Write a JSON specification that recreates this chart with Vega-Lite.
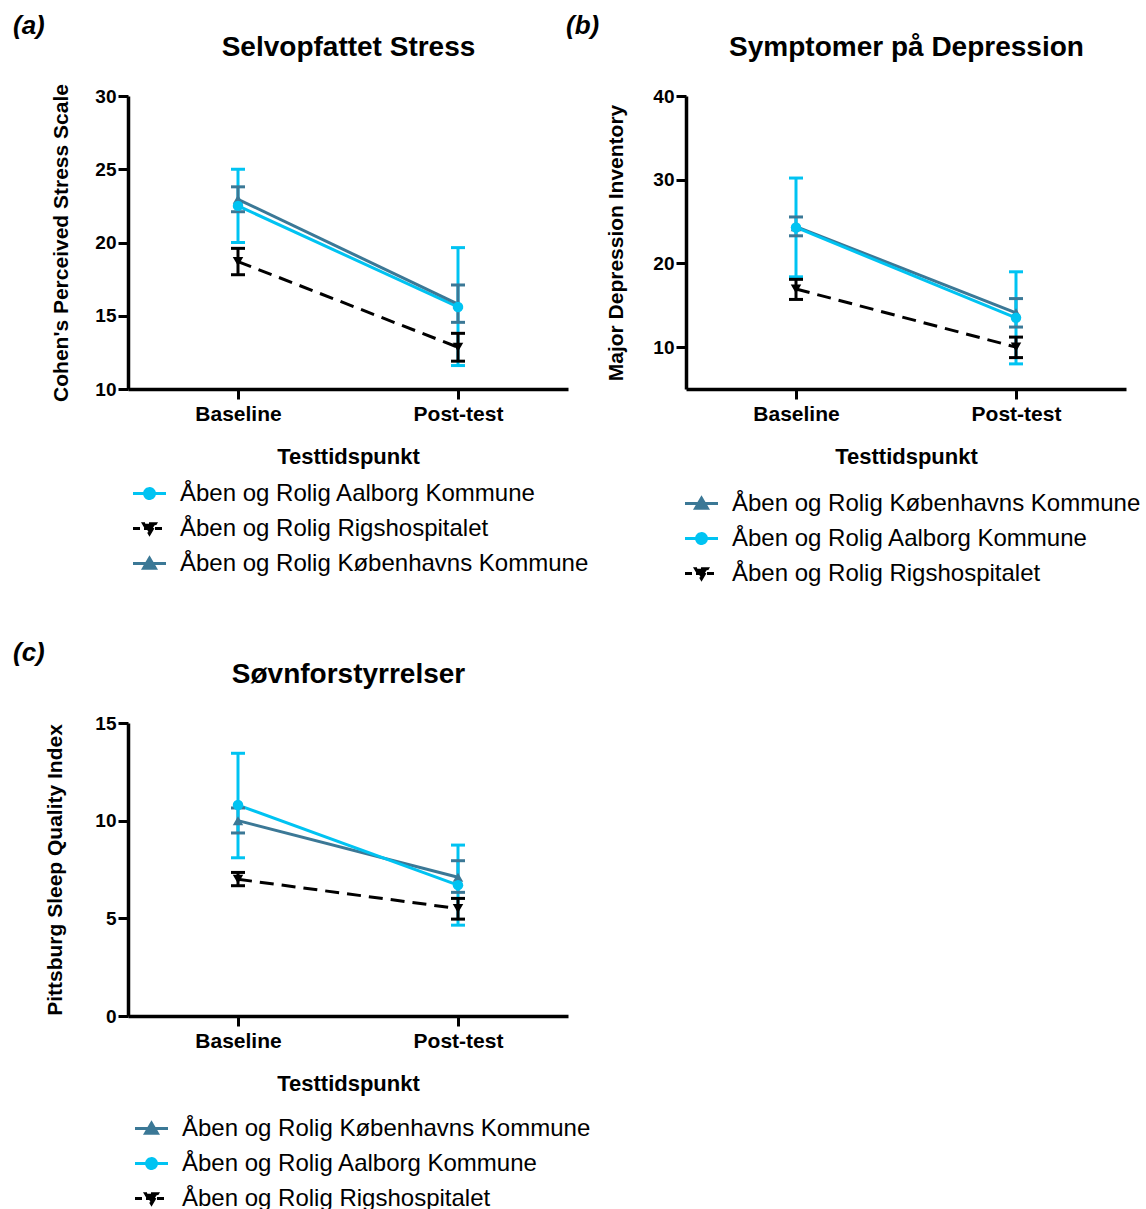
{
  "$schema": "https://vega.github.io/schema/vega-lite/v6.json",
  "background": "white",
  "padding": {"left": 13, "top": 13, "right": 0, "bottom": 0},
  "bounds": "flush",
  "columns": 2,
  "spacing": {"row": 334, "column": 118},
  "datasets": {
    "d": [
      {"panel": "a", "group": "Åben og Rolig Aalborg Kommune", "time": "Baseline", "mean": 22.5, "lo": 20.0, "hi": 25.0},
      {"panel": "a", "group": "Åben og Rolig Aalborg Kommune", "time": "Post-test", "mean": 15.6, "lo": 11.6, "hi": 19.65},
      {"panel": "a", "group": "Åben og Rolig Rigshospitalet", "time": "Baseline", "mean": 18.7, "lo": 17.8, "hi": 19.6},
      {"panel": "a", "group": "Åben og Rolig Rigshospitalet", "time": "Post-test", "mean": 12.85, "lo": 11.9, "hi": 13.8},
      {"panel": "a", "group": "Åben og Rolig Københavns Kommune", "time": "Baseline", "mean": 22.95, "lo": 22.1, "hi": 23.8},
      {"panel": "a", "group": "Åben og Rolig Københavns Kommune", "time": "Post-test", "mean": 15.8, "lo": 14.55, "hi": 17.1},
      {"panel": "b", "group": "Åben og Rolig Københavns Kommune", "time": "Baseline", "mean": 24.4, "lo": 23.3, "hi": 25.55},
      {"panel": "b", "group": "Åben og Rolig Københavns Kommune", "time": "Post-test", "mean": 14.1, "lo": 12.4, "hi": 15.8},
      {"panel": "b", "group": "Åben og Rolig Aalborg Kommune", "time": "Baseline", "mean": 24.3, "lo": 18.4, "hi": 30.2},
      {"panel": "b", "group": "Åben og Rolig Aalborg Kommune", "time": "Post-test", "mean": 13.5, "lo": 8.0, "hi": 19.0},
      {"panel": "b", "group": "Åben og Rolig Rigshospitalet", "time": "Baseline", "mean": 16.95, "lo": 15.7, "hi": 18.1},
      {"panel": "b", "group": "Åben og Rolig Rigshospitalet", "time": "Post-test", "mean": 10.0, "lo": 8.75, "hi": 11.2},
      {"panel": "c", "group": "Åben og Rolig Københavns Kommune", "time": "Baseline", "mean": 10.0, "lo": 9.37, "hi": 10.65},
      {"panel": "c", "group": "Åben og Rolig Københavns Kommune", "time": "Post-test", "mean": 7.1, "lo": 6.33, "hi": 7.95},
      {"panel": "c", "group": "Åben og Rolig Aalborg Kommune", "time": "Baseline", "mean": 10.8, "lo": 8.1, "hi": 13.45},
      {"panel": "c", "group": "Åben og Rolig Aalborg Kommune", "time": "Post-test", "mean": 6.7, "lo": 4.65, "hi": 8.75},
      {"panel": "c", "group": "Åben og Rolig Rigshospitalet", "time": "Baseline", "mean": 7.0, "lo": 6.67, "hi": 7.35},
      {"panel": "c", "group": "Åben og Rolig Rigshospitalet", "time": "Post-test", "mean": 5.5, "lo": 4.96, "hi": 6.02}
    ]
  },
  "concat": [
    {
      "width": 440, "height": 293,
      "data": {"name": "d"},
      "transform": [{"filter": "datum.panel === 'a'"}],
      "title": {"text": "(a)", "anchor": "start", "frame": "group", "dx": -115, "font": "Liberation Sans", "fontSize": 26, "fontWeight": "bold", "fontStyle": "italic", "color": "black", "baseline": "alphabetic", "offset": -27},
      "encoding": {
        "color": {"field": "group", "type": "nominal",
          "scale": {"domain": ["Åben og Rolig Aalborg Kommune", "Åben og Rolig Rigshospitalet", "Åben og Rolig Københavns Kommune"], "range": ["#00c3f2", "#000000", "#3b7896"]},
          "legend": {"title": null, "orient": "none", "legendX": 8, "legendY": 384,
            "encode": {"symbols": {"update": {
              "shape": {"signal": "datum.value === 'Åben og Rolig Aalborg Kommune' ? 'M-1.4,0H1.4M0.42,0A0.42,0.42,0,1,1,-0.42,0A0.42,0.42,0,1,1,0.42,0Z' : datum.value === 'Åben og Rolig Rigshospitalet' ? 'M-1.4,0H1.4M0,0.45L0.5,-0.4L-0.5,-0.4Z' : 'M-1.4,0H1.4M0,-0.45L0.5,0.4L-0.5,0.4Z'"},
              "fill": {"signal": "datum.value === 'Åben og Rolig Aalborg Kommune' ? '#00c3f2' : datum.value === 'Åben og Rolig Rigshospitalet' ? '#000000' : '#3b7896'"},
              "stroke": {"signal": "datum.value === 'Åben og Rolig Aalborg Kommune' ? '#00c3f2' : datum.value === 'Åben og Rolig Rigshospitalet' ? '#000000' : '#3b7896'"},
              "strokeDash": {"signal": "datum.value === 'Åben og Rolig Rigshospitalet' ? [7,4] : [1,0]"},
              "opacity": {"value": 1}
            }}}}
        }
      },
      "layer": [
        {"transform": [{"filter": "datum.group !== 'Åben og Rolig Rigshospitalet'"}],
         "mark": {"type": "line", "strokeWidth": 3},
         "encoding": {
           "x": {"field": "time", "type": "nominal", "scale": {"type": "point", "padding": 0.5, "domain": ["Baseline", "Post-test"]}, "axis": {"title": "Testtidspunkt"}},
           "y": {"field": "mean", "type": "quantitative", "scale": {"domain": [10, 30], "nice": false, "zero": false}, "axis": {"title": "Cohen's Perceived Stress Scale", "values": [10, 15, 20, 25, 30], "titlePadding": 23}}
         }},
        {"transform": [{"filter": "datum.group === 'Åben og Rolig Rigshospitalet'"}],
         "mark": {"type": "line", "strokeWidth": 3, "strokeDash": [14, 8]},
         "encoding": {
           "x": {"field": "time", "type": "nominal", "scale": {"type": "point", "padding": 0.5, "domain": ["Baseline", "Post-test"]}, "axis": null},
           "y": {"field": "mean", "type": "quantitative", "scale": {"domain": [10, 30], "nice": false, "zero": false}}
         }},
        {"mark": {"type": "rule", "strokeWidth": 3},
         "encoding": {
           "x": {"field": "time", "type": "nominal", "scale": {"type": "point", "padding": 0.5, "domain": ["Baseline", "Post-test"]}, "axis": null},
           "y": {"field": "lo", "type": "quantitative", "scale": {"domain": [10, 30], "nice": false, "zero": false}},
           "y2": {"field": "hi"}
         }},
        {"mark": {"type": "tick", "thickness": 3, "size": 14, "opacity": 1},
         "encoding": {
           "x": {"field": "time", "type": "nominal", "scale": {"type": "point", "padding": 0.5, "domain": ["Baseline", "Post-test"]}, "axis": null},
           "y": {"field": "lo", "type": "quantitative", "scale": {"domain": [10, 30], "nice": false, "zero": false}}
         }},
        {"mark": {"type": "tick", "thickness": 3, "size": 14, "opacity": 1},
         "encoding": {
           "x": {"field": "time", "type": "nominal", "scale": {"type": "point", "padding": 0.5, "domain": ["Baseline", "Post-test"]}, "axis": null},
           "y": {"field": "hi", "type": "quantitative", "scale": {"domain": [10, 30], "nice": false, "zero": false}}
         }},
        {"transform": [{"filter": "datum.group === 'Åben og Rolig Københavns Kommune'"}],
         "mark": {"type": "point", "filled": true, "size": 110, "opacity": 1, "shape": "triangle-up"},
         "encoding": {
           "x": {"field": "time", "type": "nominal", "scale": {"type": "point", "padding": 0.5, "domain": ["Baseline", "Post-test"]}, "axis": null},
           "y": {"field": "mean", "type": "quantitative", "scale": {"domain": [10, 30], "nice": false, "zero": false}}
         }},
        {"transform": [{"filter": "datum.group === 'Åben og Rolig Rigshospitalet'"}],
         "mark": {"type": "point", "filled": true, "size": 110, "opacity": 1, "shape": "triangle-down"},
         "encoding": {
           "x": {"field": "time", "type": "nominal", "scale": {"type": "point", "padding": 0.5, "domain": ["Baseline", "Post-test"]}, "axis": null},
           "y": {"field": "mean", "type": "quantitative", "scale": {"domain": [10, 30], "nice": false, "zero": false}}
         }},
        {"transform": [{"filter": "datum.group === 'Åben og Rolig Aalborg Kommune'"}],
         "mark": {"type": "point", "filled": true, "size": 110, "opacity": 1, "shape": "circle"},
         "encoding": {
           "x": {"field": "time", "type": "nominal", "scale": {"type": "point", "padding": 0.5, "domain": ["Baseline", "Post-test"]}, "axis": {"orient": "top", "title": "Selvopfattet Stress", "labels": false, "ticks": false, "domain": false, "titleFontSize": 28, "titlePadding": 35}},
           "y": {"field": "mean", "type": "quantitative", "scale": {"domain": [10, 30], "nice": false, "zero": false}}
         }}
      ],
      "resolve": {"axis": {"x": "independent"}}
    },
    {
      "width": 440, "height": 293,
      "data": {"name": "d"},
      "transform": [{"filter": "datum.panel === 'b'"}],
      "title": {"text": "(b)", "anchor": "start", "frame": "group", "dx": -120, "font": "Liberation Sans", "fontSize": 26, "fontWeight": "bold", "fontStyle": "italic", "color": "black", "baseline": "alphabetic", "offset": -27},
      "encoding": {
        "color": {"field": "group", "type": "nominal",
          "scale": {"domain": ["Åben og Rolig Københavns Kommune", "Åben og Rolig Aalborg Kommune", "Åben og Rolig Rigshospitalet"], "range": ["#3b7896", "#00c3f2", "#000000"]},
          "legend": {"title": null, "orient": "none", "legendX": 2, "legendY": 394,
            "encode": {"symbols": {"update": {
              "shape": {"signal": "datum.value === 'Åben og Rolig Aalborg Kommune' ? 'M-1.4,0H1.4M0.42,0A0.42,0.42,0,1,1,-0.42,0A0.42,0.42,0,1,1,0.42,0Z' : datum.value === 'Åben og Rolig Rigshospitalet' ? 'M-1.4,0H1.4M0,0.45L0.5,-0.4L-0.5,-0.4Z' : 'M-1.4,0H1.4M0,-0.45L0.5,0.4L-0.5,0.4Z'"},
              "fill": {"signal": "datum.value === 'Åben og Rolig Aalborg Kommune' ? '#00c3f2' : datum.value === 'Åben og Rolig Rigshospitalet' ? '#000000' : '#3b7896'"},
              "stroke": {"signal": "datum.value === 'Åben og Rolig Aalborg Kommune' ? '#00c3f2' : datum.value === 'Åben og Rolig Rigshospitalet' ? '#000000' : '#3b7896'"},
              "strokeDash": {"signal": "datum.value === 'Åben og Rolig Rigshospitalet' ? [7,4] : [1,0]"},
              "opacity": {"value": 1}
            }}}}
        }
      },
      "layer": [
        {"transform": [{"filter": "datum.group !== 'Åben og Rolig Rigshospitalet'"}],
         "mark": {"type": "line", "strokeWidth": 3},
         "encoding": {
           "x": {"field": "time", "type": "nominal", "scale": {"type": "point", "padding": 0.5, "domain": ["Baseline", "Post-test"]}, "axis": {"title": "Testtidspunkt"}},
           "y": {"field": "mean", "type": "quantitative", "scale": {"domain": [5, 40], "nice": false, "zero": false}, "axis": {"title": "Major Depression Inventory", "values": [10, 20, 30, 40], "titlePadding": 26}}
         }},
        {"transform": [{"filter": "datum.group === 'Åben og Rolig Rigshospitalet'"}],
         "mark": {"type": "line", "strokeWidth": 3, "strokeDash": [14, 8]},
         "encoding": {
           "x": {"field": "time", "type": "nominal", "scale": {"type": "point", "padding": 0.5, "domain": ["Baseline", "Post-test"]}, "axis": null},
           "y": {"field": "mean", "type": "quantitative", "scale": {"domain": [5, 40], "nice": false, "zero": false}}
         }},
        {"mark": {"type": "rule", "strokeWidth": 3},
         "encoding": {
           "x": {"field": "time", "type": "nominal", "scale": {"type": "point", "padding": 0.5, "domain": ["Baseline", "Post-test"]}, "axis": null},
           "y": {"field": "lo", "type": "quantitative", "scale": {"domain": [5, 40], "nice": false, "zero": false}},
           "y2": {"field": "hi"}
         }},
        {"mark": {"type": "tick", "thickness": 3, "size": 14, "opacity": 1},
         "encoding": {
           "x": {"field": "time", "type": "nominal", "scale": {"type": "point", "padding": 0.5, "domain": ["Baseline", "Post-test"]}, "axis": null},
           "y": {"field": "lo", "type": "quantitative", "scale": {"domain": [5, 40], "nice": false, "zero": false}}
         }},
        {"mark": {"type": "tick", "thickness": 3, "size": 14, "opacity": 1},
         "encoding": {
           "x": {"field": "time", "type": "nominal", "scale": {"type": "point", "padding": 0.5, "domain": ["Baseline", "Post-test"]}, "axis": null},
           "y": {"field": "hi", "type": "quantitative", "scale": {"domain": [5, 40], "nice": false, "zero": false}}
         }},
        {"transform": [{"filter": "datum.group === 'Åben og Rolig Københavns Kommune'"}],
         "mark": {"type": "point", "filled": true, "size": 110, "opacity": 1, "shape": "triangle-up"},
         "encoding": {
           "x": {"field": "time", "type": "nominal", "scale": {"type": "point", "padding": 0.5, "domain": ["Baseline", "Post-test"]}, "axis": null},
           "y": {"field": "mean", "type": "quantitative", "scale": {"domain": [5, 40], "nice": false, "zero": false}}
         }},
        {"transform": [{"filter": "datum.group === 'Åben og Rolig Rigshospitalet'"}],
         "mark": {"type": "point", "filled": true, "size": 110, "opacity": 1, "shape": "triangle-down"},
         "encoding": {
           "x": {"field": "time", "type": "nominal", "scale": {"type": "point", "padding": 0.5, "domain": ["Baseline", "Post-test"]}, "axis": null},
           "y": {"field": "mean", "type": "quantitative", "scale": {"domain": [5, 40], "nice": false, "zero": false}}
         }},
        {"transform": [{"filter": "datum.group === 'Åben og Rolig Aalborg Kommune'"}],
         "mark": {"type": "point", "filled": true, "size": 110, "opacity": 1, "shape": "circle"},
         "encoding": {
           "x": {"field": "time", "type": "nominal", "scale": {"type": "point", "padding": 0.5, "domain": ["Baseline", "Post-test"]}, "axis": {"orient": "top", "title": "Symptomer på Depression", "labels": false, "ticks": false, "domain": false, "titleFontSize": 28, "titlePadding": 35}},
           "y": {"field": "mean", "type": "quantitative", "scale": {"domain": [5, 40], "nice": false, "zero": false}}
         }}
      ],
      "resolve": {"axis": {"x": "independent"}}
    },
    {
      "width": 440, "height": 293,
      "data": {"name": "d"},
      "transform": [{"filter": "datum.panel === 'c'"}],
      "title": {"text": "(c)", "anchor": "start", "frame": "group", "dx": -115, "font": "Liberation Sans", "fontSize": 26, "fontWeight": "bold", "fontStyle": "italic", "color": "black", "baseline": "alphabetic", "offset": -27},
      "encoding": {
        "color": {"field": "group", "type": "nominal",
          "scale": {"domain": ["Åben og Rolig Københavns Kommune", "Åben og Rolig Aalborg Kommune", "Åben og Rolig Rigshospitalet"], "range": ["#3b7896", "#00c3f2", "#000000"]},
          "legend": {"title": null, "orient": "none", "legendX": 10, "legendY": 392,
            "encode": {"symbols": {"update": {
              "shape": {"signal": "datum.value === 'Åben og Rolig Aalborg Kommune' ? 'M-1.4,0H1.4M0.42,0A0.42,0.42,0,1,1,-0.42,0A0.42,0.42,0,1,1,0.42,0Z' : datum.value === 'Åben og Rolig Rigshospitalet' ? 'M-1.4,0H1.4M0,0.45L0.5,-0.4L-0.5,-0.4Z' : 'M-1.4,0H1.4M0,-0.45L0.5,0.4L-0.5,0.4Z'"},
              "fill": {"signal": "datum.value === 'Åben og Rolig Aalborg Kommune' ? '#00c3f2' : datum.value === 'Åben og Rolig Rigshospitalet' ? '#000000' : '#3b7896'"},
              "stroke": {"signal": "datum.value === 'Åben og Rolig Aalborg Kommune' ? '#00c3f2' : datum.value === 'Åben og Rolig Rigshospitalet' ? '#000000' : '#3b7896'"},
              "strokeDash": {"signal": "datum.value === 'Åben og Rolig Rigshospitalet' ? [7,4] : [1,0]"},
              "opacity": {"value": 1}
            }}}}
        }
      },
      "layer": [
        {"transform": [{"filter": "datum.group !== 'Åben og Rolig Rigshospitalet'"}],
         "mark": {"type": "line", "strokeWidth": 3},
         "encoding": {
           "x": {"field": "time", "type": "nominal", "scale": {"type": "point", "padding": 0.5, "domain": ["Baseline", "Post-test"]}, "axis": {"title": "Testtidspunkt"}},
           "y": {"field": "mean", "type": "quantitative", "scale": {"domain": [0, 15], "nice": false, "zero": false}, "axis": {"title": "Pittsburg Sleep Quality Index", "values": [0, 5, 10, 15], "titlePadding": 29}}
         }},
        {"transform": [{"filter": "datum.group === 'Åben og Rolig Rigshospitalet'"}],
         "mark": {"type": "line", "strokeWidth": 3, "strokeDash": [14, 8]},
         "encoding": {
           "x": {"field": "time", "type": "nominal", "scale": {"type": "point", "padding": 0.5, "domain": ["Baseline", "Post-test"]}, "axis": null},
           "y": {"field": "mean", "type": "quantitative", "scale": {"domain": [0, 15], "nice": false, "zero": false}}
         }},
        {"mark": {"type": "rule", "strokeWidth": 3},
         "encoding": {
           "x": {"field": "time", "type": "nominal", "scale": {"type": "point", "padding": 0.5, "domain": ["Baseline", "Post-test"]}, "axis": null},
           "y": {"field": "lo", "type": "quantitative", "scale": {"domain": [0, 15], "nice": false, "zero": false}},
           "y2": {"field": "hi"}
         }},
        {"mark": {"type": "tick", "thickness": 3, "size": 14, "opacity": 1},
         "encoding": {
           "x": {"field": "time", "type": "nominal", "scale": {"type": "point", "padding": 0.5, "domain": ["Baseline", "Post-test"]}, "axis": null},
           "y": {"field": "lo", "type": "quantitative", "scale": {"domain": [0, 15], "nice": false, "zero": false}}
         }},
        {"mark": {"type": "tick", "thickness": 3, "size": 14, "opacity": 1},
         "encoding": {
           "x": {"field": "time", "type": "nominal", "scale": {"type": "point", "padding": 0.5, "domain": ["Baseline", "Post-test"]}, "axis": null},
           "y": {"field": "hi", "type": "quantitative", "scale": {"domain": [0, 15], "nice": false, "zero": false}}
         }},
        {"transform": [{"filter": "datum.group === 'Åben og Rolig Københavns Kommune'"}],
         "mark": {"type": "point", "filled": true, "size": 110, "opacity": 1, "shape": "triangle-up"},
         "encoding": {
           "x": {"field": "time", "type": "nominal", "scale": {"type": "point", "padding": 0.5, "domain": ["Baseline", "Post-test"]}, "axis": null},
           "y": {"field": "mean", "type": "quantitative", "scale": {"domain": [0, 15], "nice": false, "zero": false}}
         }},
        {"transform": [{"filter": "datum.group === 'Åben og Rolig Rigshospitalet'"}],
         "mark": {"type": "point", "filled": true, "size": 110, "opacity": 1, "shape": "triangle-down"},
         "encoding": {
           "x": {"field": "time", "type": "nominal", "scale": {"type": "point", "padding": 0.5, "domain": ["Baseline", "Post-test"]}, "axis": null},
           "y": {"field": "mean", "type": "quantitative", "scale": {"domain": [0, 15], "nice": false, "zero": false}}
         }},
        {"transform": [{"filter": "datum.group === 'Åben og Rolig Aalborg Kommune'"}],
         "mark": {"type": "point", "filled": true, "size": 110, "opacity": 1, "shape": "circle"},
         "encoding": {
           "x": {"field": "time", "type": "nominal", "scale": {"type": "point", "padding": 0.5, "domain": ["Baseline", "Post-test"]}, "axis": {"orient": "top", "title": "Søvnforstyrrelser", "labels": false, "ticks": false, "domain": false, "titleFontSize": 28, "titlePadding": 35}},
           "y": {"field": "mean", "type": "quantitative", "scale": {"domain": [0, 15], "nice": false, "zero": false}}
         }}
      ],
      "resolve": {"axis": {"x": "independent"}}
    }
  ],
  "resolve": {
    "scale": {"color": "independent", "x": "independent", "y": "independent"},
    "legend": {"color": "independent"},
    "axis": {"x": "independent", "y": "independent"}
  },
  "config": {
    "font": "Liberation Sans",
    "view": {"stroke": null},
    "axis": {"grid": false, "domainColor": "black", "domainWidth": 3.5, "tickColor": "black", "tickWidth": 3, "tickSize": 10, "labelColor": "black", "labelFontWeight": "bold", "titleColor": "black", "titleFontWeight": "bold", "labelFont": "Liberation Sans", "titleFont": "Liberation Sans"},
    "axisX": {"labelFontSize": 21, "labelAngle": 0, "labelPadding": 4, "titleFontSize": 22, "titlePadding": 22},
    "axisY": {"labelFontSize": 19, "labelPadding": 2, "titleFontSize": 21, "titlePadding": 23, "labelFlush": false},
    "legend": {"labelFontSize": 24, "labelFont": "Liberation Sans", "labelColor": "black", "symbolSize": 556, "symbolStrokeWidth": 3, "rowPadding": 9, "labelOffset": 17, "symbolOpacity": 1, "labelLimit": 600}
  }
}
